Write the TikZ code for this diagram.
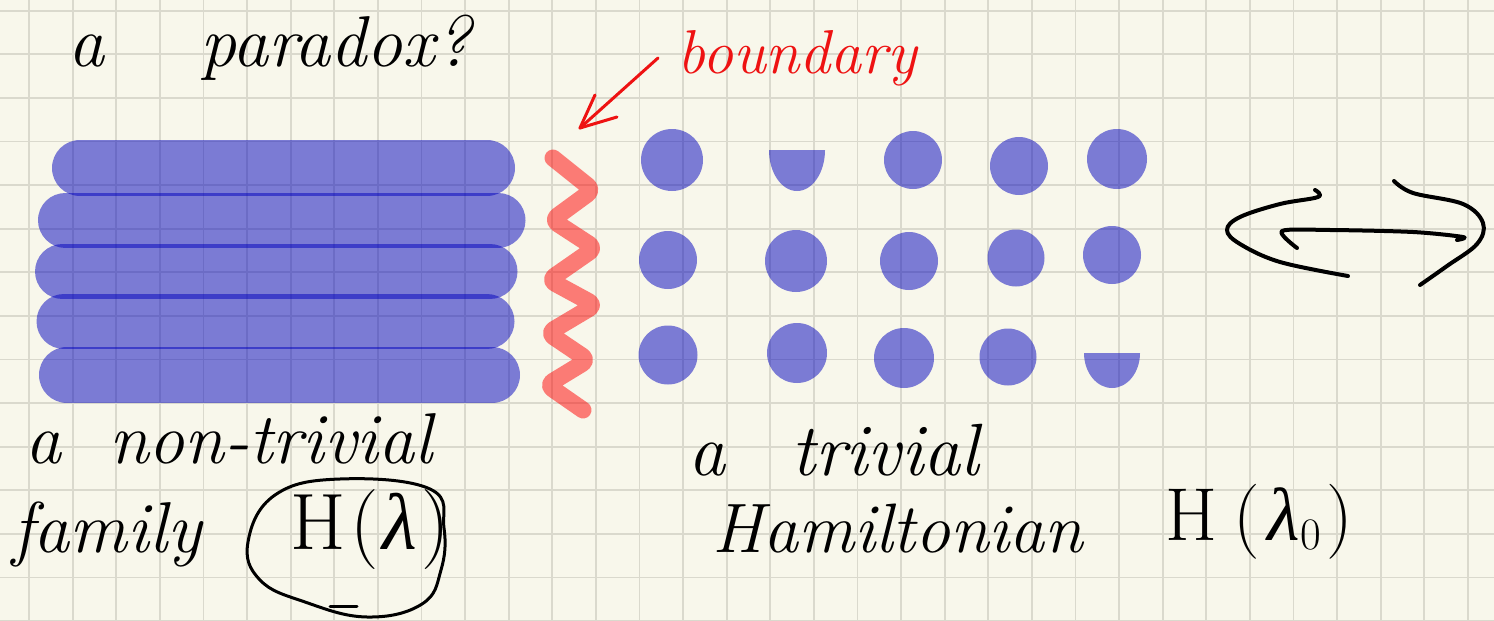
\documentclass[tikz,border=0pt]{standalone}
\usepackage{fontspec}
\newfontfamily\grk{Liberation Serif}
\definecolor{bgc}{RGB}{248,247,235}
\definecolor{gridc}{RGB}{218,217,205}
\definecolor{inkblue}{RGB}{0,0,190}
\definecolor{inkred}{RGB}{255,0,0}
\definecolor{textred}{RGB}{238,18,18}
\tikzset{
  gridline/.style={draw=gridc, line width=1.8pt},
  bar/.style={draw=inkblue, draw opacity=0.5, line cap=round},
  dot/.style={fill=inkblue, fill opacity=0.5},
  zig/.style={draw=inkred, draw opacity=0.5, line width=17pt, line cap=round, line join=round, rounded corners=7pt},
  pen/.style={draw=black, line width=3.5pt, line cap=round, line join=round},
  redpen/.style={draw=textred, line width=3pt, line cap=round, line join=round},
  hand/.style={inner sep=0pt, anchor=base west}
}
\begin{document}
\begin{tikzpicture}[x=1pt,y=-1pt]
\useasboundingbox (0,0) rectangle (1494,621);
\fill[bgc] (0,0) rectangle (1494,621);
\foreach \k in {0,...,33} \draw[gridline] ({29+43.6*\k},0) -- ({29+43.6*\k},621);
\foreach \k in {0,...,14} \draw[gridline] (0,{10.7+43.6*\k}) -- (1494,{10.7+43.6*\k});

% title
\node[hand, font=\fontsize{72}{80}\selectfont\itshape] (title) at (68,66) {a\hspace{96pt}paradox?};

% boundary label and arrow
\node[hand, text=textred, font=\fontsize{62}{68}\selectfont\itshape] (bd) at (677,73) {boundary};
\coordinate (arrtail) at (658,58);
\coordinate (arrtip) at (580,128);
\draw[redpen] (arrtail) -- (arrtip);
\draw[redpen] (arrtip) -- ++(15,-33);
\draw[redpen] (arrtip) -- ++(37,-11);

% non-trivial family: bars
\draw[bar, line width=56pt] (80,168) -- (487,168);
\draw[bar, line width=55pt] (65.5,220) -- (498,220);
\draw[bar, line width=55pt] (62.5,271.5) -- (490,271.5);
\draw[bar, line width=55pt] (64,321.5) -- (487,321.5);
\draw[bar, line width=56pt] (67,375) -- (492,375);

% boundary zigzag
\draw[zig] (553,158) -- (593,190) -- (552,220) -- (595,248) -- (549,280) -- (595,305) -- (548,333) -- (588,360) -- (547,385) -- (583,410);

% trivial dots
\fill[dot] (672,160) circle (31);
\fill[dot] (797,150) -- (825,150) .. controls (825,172.6) and (812.5,191) .. (797,191) .. controls (781.5,191) and (769,172.6) .. (769,150) -- cycle;
\fill[dot] (913,160) circle (29);
\fill[dot] (1019,166) circle (29);
\fill[dot] (1117,159) circle (30);
\fill[dot] (668,260) circle (29);
\fill[dot] (796,261) circle (31);
\fill[dot] (909,261) circle (29);
\fill[dot] (1016,258) circle (28.5);
\fill[dot] (1112,255) circle (29);
\fill[dot] (668,355) circle (29.5);
\fill[dot] (797,353) circle (30);
\fill[dot] (904,358) circle (30);
\fill[dot] (1008,357) circle (28.5);
\fill[dot] (1112,353) -- (1140,353) .. controls (1140,372.3) and (1127.5,388) .. (1112,388) .. controls (1096.5,388) and (1084,372.3) .. (1084,353) -- cycle;

% double arrow
\draw[pen, line width=4pt] plot[smooth, tension=0.6] coordinates {(1315,190) (1318,197) (1280,204) (1240,217) (1227,230) (1240,244) (1280,262) (1348,276)};
\draw[pen, line width=4pt] plot[smooth, tension=0.5] coordinates {(1297,248) (1282,231) (1330,230) (1413,232) (1463,237) (1457,240)};
\draw[pen, line width=4pt] plot[smooth, tension=0.6] coordinates {(1394,181) (1413,193) (1463,204) (1483,223) (1477,244) (1447,266) (1420,285)};

% bottom labels
\node[hand, font=\fontsize{72}{80}\selectfont\itshape] (nt) at (25,463) {a\hspace{48pt}non-trivial};
\node[hand, font=\fontsize{72}{80}\selectfont\itshape] (fam) at (12,552) {family};
\node[inner sep=0pt, font=\fontsize{80}{88}\selectfont] (hl) at (370,530) {H\hspace{4pt}(\hspace{4pt}{\grk\itshape λ}\hspace{4pt})};
\draw[pen, line width=3pt] plot[smooth cycle, tension=0.7] coordinates {(430,489) (340,479) (275,495) (248,542) (260,580) (305,602) (367,617) (422,604) (441,570) (444,528)};
\draw[pen, line width=3pt] (330,606) -- (357,606);

\node[hand, font=\fontsize{74}{80}\selectfont\itshape] (tr) at (688,475) {a\hspace{66pt}trivial};
\node[hand, font=\fontsize{70}{78}\selectfont\itshape] (ham) at (712,552) {Hamiltonian};
\node[hand, font=\fontsize{75}{82}\selectfont] (hl0) at (1165,540) {H\hspace{16pt}(\hspace{8pt}{\grk\itshape λ}\raisebox{-0.12em}{\fontsize{45}{50}\selectfont 0}\hspace{6pt})};
\end{tikzpicture}
\end{document}
